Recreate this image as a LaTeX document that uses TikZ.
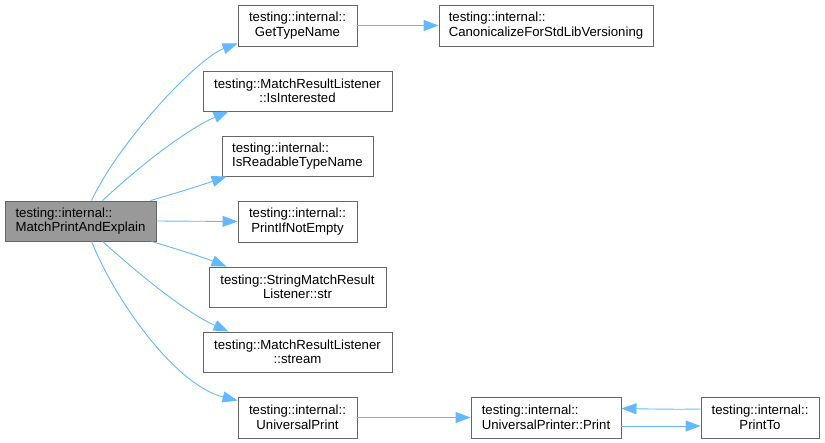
\documentclass[tikz,border=0pt]{standalone}
\usepackage{fontspec}
\setmainfont{Liberation Sans}
\usetikzlibrary{arrows.meta}
\definecolor{edgeblue}{HTML}{63B8FF}
\definecolor{boxline}{HTML}{666666}
\definecolor{mainfill}{HTML}{999999}
\begin{document}
\begin{tikzpicture}[x=1bp,y=-1bp,
  fn/.style={draw=boxline,line width=0.9bp,fill=white,rectangle,inner sep=0pt,minimum height=41bp,
    font=\fontsize{13.2bp}{14.5bp}\selectfont,align=center},
  fnl/.style={fn,align=left},
  mainbox/.style={fnl,fill=mainfill},
  call/.style={draw=edgeblue,line width=0.9bp,-{Triangle[length=15bp,width=11bp]}}]
\useasboundingbox (0,0) rectangle (825,443);
\node[mainbox,minimum width=151bp,minimum height=40bp] (main) at (80.5,221) {testing::internal::\\MatchPrintAndExplain};
\node[fn,minimum width=119bp] (gt) at (297.5,25.5) {testing::internal::\\GetTypeName};
\node[fnl,minimum width=214bp] (cf) at (546,25.5) {testing::internal::\\CanonicalizeForStdLibVersioning};
\node[fn,minimum width=189bp,minimum height=40bp] (ii) at (297.5,91) {testing::MatchResultListener\\::IsInterested};
\node[fnl,minimum width=151bp,minimum height=40bp] (ir) at (297.5,156) {testing::internal::\\IsReadableTypeName};
\node[fn,minimum width=119bp] (pe) at (297.5,221.5) {testing::internal::\\PrintIfNotEmpty};
\node[fn,minimum width=177bp,minimum height=40bp] (str) at (297.5,287) {testing::StringMatchResult\\Listener::str};
\node[fn,minimum width=189bp,minimum height=40bp] (stm) at (297.5,352) {testing::MatchResultListener\\::stream};
\node[fn,minimum width=119bp] (up) at (297.5,417.5) {testing::internal::\\UniversalPrint};
\node[fnl,minimum width=150bp] (upp) at (546,417.5) {testing::internal::\\UniversalPrinter::Print};
\node[fn,minimum width=118bp] (pt) at (760,417.5) {testing::internal::\\PrintTo};

\draw[call] ([xshift=87bp]main.north west) .. controls (120,140) and (198,58) .. ([yshift=3bp]gt.south west);
\draw[call] ([xshift=98bp]main.north west) .. controls (135,170) and (185,130) .. ([xshift=26bp]ii.south west);
\draw[call] ([xshift=146bp]main.north west) .. controls (180,192) and (205,184) .. ([xshift=5bp]ir.south west);
\draw[call] (main.east) -- (pe.west);
\draw[call] ([xshift=147bp]main.south west) .. controls (180,250) and (205,258) .. ([xshift=18bp]str.north west);
\draw[call] ([xshift=98bp]main.south west) .. controls (140,275) and (185,312) .. ([xshift=26bp]stm.north west);
\draw[call] ([xshift=87bp]main.south west) .. controls (115,300) and (175,385) .. ([yshift=-4bp]up.north west);
\draw[call] (gt.east) -- (cf.west);
\draw[call] (up.east) -- (upp.west);
\draw[call] ([yshift=-8.5bp]upp.east) -- ([yshift=-8.5bp]pt.west);
\draw[call] ([yshift=8.5bp]pt.west) .. controls (680,409.5) and (650,409) .. ([yshift=9bp]upp.east);
\end{tikzpicture}
\end{document}
